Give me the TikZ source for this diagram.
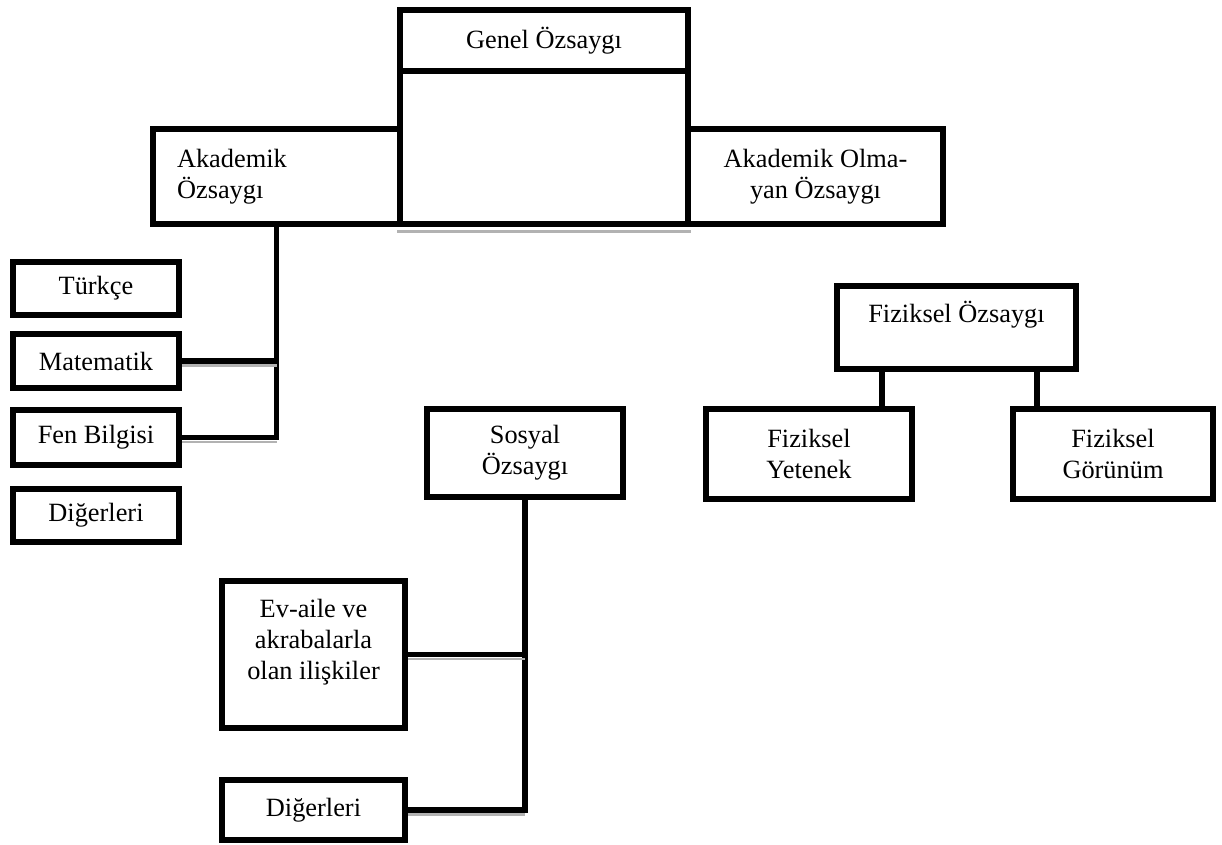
\documentclass[tikz,border=0pt]{standalone}
\usepackage{fontspec}
\setmainfont{Liberation Serif}
\usetikzlibrary{positioning}

\begin{document}
\begin{tikzpicture}[x=0.02cm,y=-0.02cm,
    box/.style={draw,line width=3.3pt,align=center,inner sep=2pt,
      font=\fontsize{15}{17.5}\selectfont},
    conn/.style={line width=3.3pt},
    shade/.style={gray!60,line width=1.6pt}]
  \useasboundingbox (0,0) rectangle (1222,844);

  % top of the tree
  \node[box,minimum width=5.76cm,minimum height=1.22cm] (genel) at (544,40.5) {Genel Özsaygı};
  \node[box,minimum width=5.76cm,minimum height=3.06cm] (genelalt) at (544,147.5) {};
  \node[box,minimum width=4.94cm,minimum height=1.9cm,text width=3.98cm,align=left] (akad) at (276.5,176.5) {Akademik\\Özsaygı};
  \node[box,minimum width=5.1cm,minimum height=1.9cm] (nonakad) at (815.5,176.5) {Akademik Olma-\\yan Özsaygı};

  % academic branch
  \node[box,minimum width=3.32cm,minimum height=1.06cm] (turk) at (96,288.5) {Türkçe};
  \node[box,minimum width=3.32cm,minimum height=1.08cm] (mat) at (96,361) {Matematik};
  \node[box,minimum width=3.32cm,minimum height=1.1cm] (fen) at (96,437.5) {Fen Bilgisi};
  \node[box,minimum width=3.32cm,minimum height=1.06cm] (digA) at (96,515.5) {Diğerleri};
  \draw[conn] (akad.south) |- (fen.east);
  \draw[conn] (mat.east) -- (mat.east -| akad.south);

  % social branch
  \node[box,minimum width=3.92cm,minimum height=1.76cm] (sosyal) at (525,453) {Sosyal\\Özsaygı};
  \node[box,minimum width=3.66cm,minimum height=2.94cm] (ev) at (313.5,654.5) {Ev-aile ve\\akrabalarla\\olan ilişkiler\\\mbox{}};
  \node[box,minimum width=3.66cm,minimum height=1.2cm] (digB) at (313.5,810) {Diğerleri};
  \draw[conn] (sosyal.south) |- (digB.east);
  \draw[conn] (ev.east) -- (ev.east -| sosyal.south);

  % physical branch
  \node[box,minimum width=4.78cm,minimum height=1.66cm] (fizik) at (956.5,327.5) {Fiziksel Özsaygı\\\mbox{}};
  \node[box,minimum width=4.12cm,minimum height=1.8cm] (fizy) at (809,454) {Fiziksel\\Yetenek};
  \node[box,minimum width=4cm,minimum height=1.8cm] (fizg) at (1113,454) {Fiziksel\\Görünüm};
  \draw[conn] (882,0 |- fizik.south) -- (882,0 |- fizy.north);
  \draw[conn] (1037,0 |- fizik.south) -- (1037,0 |- fizg.north);

  % grey shadows under the lines
  \draw[shade] ([yshift=-2.8pt]genelalt.south west) -- ([yshift=-2.8pt]genelalt.south east);
  \draw[shade] ([yshift=-2.6pt]mat.east) -- ([yshift=-2.6pt]mat.east -| akad.south);
  \draw[shade] ([yshift=-2.6pt]fen.east) -- ([yshift=-2.6pt]fen.east -| akad.south);
  \draw[shade] ([yshift=-2.6pt]ev.east) -- ([yshift=-2.6pt]ev.east -| sosyal.south);
  \draw[shade] ([yshift=-2.6pt]digB.east) -- ([yshift=-2.6pt]digB.east -| sosyal.south);
\end{tikzpicture}
\end{document}
